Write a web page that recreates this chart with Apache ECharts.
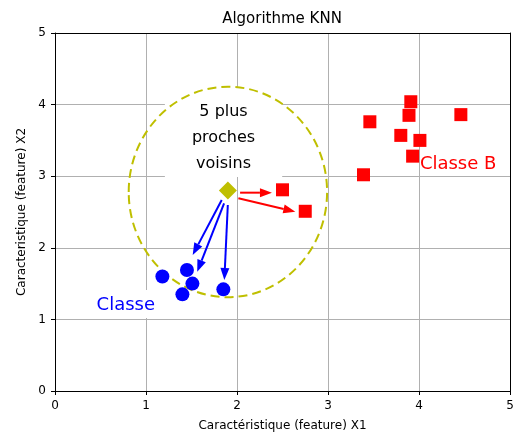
<!DOCTYPE html>
<html><head><meta charset="utf-8">
<script src="https://cdn.jsdelivr.net/npm/echarts@6/dist/echarts.min.js"></script>
<style>html,body{margin:0;padding:0;background:#fff}#c{width:518px;height:432px}</style>
</head><body><div id="c"></div>
<script>
// ---- data ----
const classA = [[1.18,1.60],[1.45,1.69],[1.51,1.50],[1.40,1.35],[1.85,1.42]];
const classB = [[3.91,4.04],[3.89,3.85],[3.46,3.76],[4.46,3.86],[3.80,3.57],[4.01,3.50],[3.93,3.28],[3.39,3.02],[2.50,2.81],[2.75,2.51]];
const newPoint = [[1.90,2.80]];
const neighbourhood = [[1.90,2.78,1.09,1.47]]; // cx, cy, rx, ry
const blueArrows = [[1.832,2.668,1.513,1.900],[1.858,2.622,1.563,1.666],[1.899,2.598,1.861,1.550]];
const redArrows = [[2.034,2.770,2.384,2.770],[2.015,2.691,2.641,2.504]];
const noteKnn = [[1.852,4.232,'5 plus\nproches\nvoisins']];
const noteA = [[0.778,1.41,'Classe']];
const noteB = [[4.43,3.17,'Classe B']];
const axisMin = 0, axisMax = 5, axisStep = 1;

const FONT = 'DejaVu Sans';
const chart = echarts.init(document.getElementById('c'), null, {renderer:'canvas'});

function arrowSeries(data, color){
  return {
    type:'custom', z:4, silent:true, data:data,
    renderItem:function(params, api){
      const p1 = api.coord([api.value(0), api.value(1)]);
      const p2 = api.coord([api.value(2), api.value(3)]);
      const dx = p2[0]-p1[0], dy = p2[1]-p1[1];
      const L = Math.hypot(dx,dy), ux = dx/L, uy = dy/L;
      const hl = 12, hw = 4.5;
      const b = [p2[0]-ux*hl, p2[1]-uy*hl];
      return {type:'group', children:[
        {type:'line', shape:{x1:p1[0],y1:p1[1],x2:b[0],y2:b[1]}, style:{stroke:color, lineWidth:2}},
        {type:'polygon', shape:{points:[p2,[b[0]-uy*hw,b[1]+ux*hw],[b[0]+uy*hw,b[1]-ux*hw]]}, style:{fill:color}}
      ]};
    }
  };
}
function noteSeries(data, color, size, lh, pad, vAlign, bg){
  return {
    type:'custom', z:2, silent:true, data:data,
    renderItem:function(params, api){
      const p = api.coord([api.value(0), api.value(1)]);
      return {type:'text', x:p[0], y:p[1], style:{
        text: data[params.dataIndex][2], fill:color, font: size+'px "'+FONT+'"',
        align:'center', verticalAlign:vAlign, lineHeight:lh,
        backgroundColor: bg, padding: pad
      }};
    }
  };
}

const axisCommon = {
  type:'value', min:axisMin, max:axisMax, interval:axisStep,
  axisLine:{show:true, onZero:false, lineStyle:{color:'#000', width:1}},
  axisTick:{show:true, length:4, lineStyle:{color:'#000'}},
  axisLabel:{color:'#000', fontSize:12, fontFamily:FONT},
  splitLine:{show:true, lineStyle:{color:'#b0b0b0', width:1}},
  nameLocation:'middle',
  nameTextStyle:{color:'#000', fontSize:12, fontFamily:FONT}
};
const frameAxis = {
  type:'value', min:axisMin, max:axisMax, interval:axisStep,
  axisLine:{show:true, onZero:false, lineStyle:{color:'#000', width:1}},
  axisTick:{show:false}, axisLabel:{show:false}, splitLine:{show:false}
};

chart.setOption({
  animation:false,
  backgroundColor:'#fff',
  title:{text:'Algorithme KNN', left:282, top:12, textAlign:'center', padding:0,
    textStyle:{fontSize:15, fontWeight:'normal', color:'#000', fontFamily:FONT}},
  grid:{left:55, right:8, top:33, bottom:41, containLabel:false, outerBoundsMode:'none'},
  xAxis:[
    Object.assign({}, axisCommon, {name:'Caractéristique (feature) X1', nameGap:29,
      axisLabel:Object.assign({}, axisCommon.axisLabel, {margin:9})}),
    Object.assign({}, frameAxis, {position:'top'})
  ],
  yAxis:[
    Object.assign({}, axisCommon, {name:'Caracteristique (feature) X2', nameGap:22,
      axisLabel:Object.assign({}, axisCommon.axisLabel, {margin:9})}),
    Object.assign({}, frameAxis, {position:'right'})
  ],
  series:[
    noteSeries(noteKnn, '#000', 16, 26, [11,27,0,27], 'top', '#fff'),
    noteSeries(noteA, '#0000ff', 18, 22, [4,5,2,5], 'top', '#fff'),
    noteSeries(noteB, '#ff0000', 18, 22, 0, 'middle', null),
    {
      type:'custom', z:3, silent:true, data:neighbourhood,
      renderItem:function(params, api){
        const c = api.coord([api.value(0), api.value(1)]);
        const s = api.size([api.value(2), api.value(3)]);
        return {type:'ellipse', shape:{cx:c[0], cy:c[1], rx:s[0], ry:s[1]},
          style:{fill:'none', stroke:'#bfbf00', lineWidth:2, lineDash:[9,5]}};
      }
    },
    arrowSeries(blueArrows, '#0000ff'),
    arrowSeries(redArrows, '#ff0000'),
    {type:'scatter', z:5, data:classA, symbol:'circle', symbolSize:14, itemStyle:{color:'#0000ff', opacity:1}},
    {type:'scatter', z:5, data:classB, symbol:'rect', symbolSize:13, itemStyle:{color:'#ff0000', opacity:1}},
    {type:'scatter', z:5, data:newPoint, symbol:'diamond', symbolSize:18, itemStyle:{color:'#bfbf00', opacity:1}}
  ]
});
</script></body></html>
